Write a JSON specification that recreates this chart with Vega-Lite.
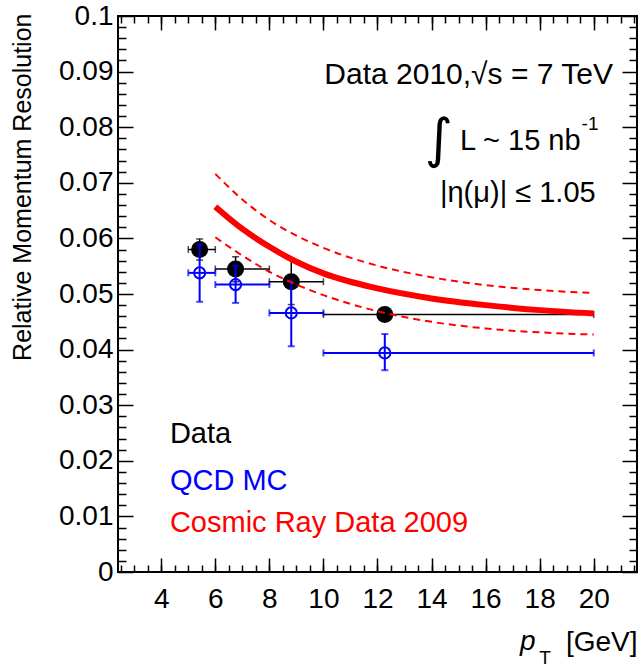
{
  "$schema": "https://vega.github.io/schema/vega-lite/v6.json",
  "width": 519,
  "height": 556,
  "autosize": {"type": "none"},
  "padding": {"left": 118, "top": 16, "right": 5, "bottom": 96},
  "background": "white",
  "config": {
    "view": {"stroke": "black", "strokeWidth": 2},
    "font": "Liberation Sans",
    "axis": {"grid": false, "domain": false, "tickColor": "black", "tickWidth": 1.5, "labelColor": "black", "titleColor": "black", "labelFont": "Liberation Sans", "titleFont": "Liberation Sans", "titleFontWeight": "normal"}
  },
  "datasets": {
    "pts": [
      {"series": "Data", "x": 5.42, "xlo": 5, "xhi": 6, "y": 0.058, "ylo": 0.0561, "yhi": 0.0599},
      {"series": "Data", "x": 6.75, "xlo": 6, "xhi": 8, "y": 0.0545, "ylo": 0.0522, "yhi": 0.0567},
      {"series": "Data", "x": 8.81, "xlo": 8, "xhi": 10, "y": 0.0522, "ylo": 0.0481, "yhi": 0.0564},
      {"series": "Data", "x": 12.27, "xlo": 10, "xhi": 20, "y": 0.0463, "ylo": 0.0456, "yhi": 0.047},
      {"series": "QCD MC", "x": 5.42, "xlo": 5, "xhi": 6, "y": 0.0538, "ylo": 0.0486, "yhi": 0.0589},
      {"series": "QCD MC", "x": 6.75, "xlo": 6, "xhi": 8, "y": 0.0517, "ylo": 0.0484, "yhi": 0.0551},
      {"series": "QCD MC", "x": 8.81, "xlo": 8, "xhi": 10, "y": 0.0466, "ylo": 0.0406, "yhi": 0.0524},
      {"series": "QCD MC", "x": 12.27, "xlo": 10, "xhi": 20, "y": 0.0394, "ylo": 0.0363, "yhi": 0.0428}
    ],
    "curves": [
      {"curve": "central", "x": 6, "y": 0.0657},
      {"curve": "central", "x": 7, "y": 0.0617},
      {"curve": "central", "x": 8, "y": 0.0585},
      {"curve": "central", "x": 9, "y": 0.0558},
      {"curve": "central", "x": 10, "y": 0.0537},
      {"curve": "central", "x": 12, "y": 0.051},
      {"curve": "central", "x": 14, "y": 0.0492},
      {"curve": "central", "x": 16, "y": 0.048},
      {"curve": "central", "x": 18, "y": 0.0471},
      {"curve": "central", "x": 20, "y": 0.0465},
      {"curve": "upper", "x": 6, "y": 0.0716},
      {"curve": "upper", "x": 7, "y": 0.067},
      {"curve": "upper", "x": 8, "y": 0.0633},
      {"curve": "upper", "x": 9, "y": 0.0605},
      {"curve": "upper", "x": 10, "y": 0.0583},
      {"curve": "upper", "x": 12, "y": 0.0551},
      {"curve": "upper", "x": 14, "y": 0.053},
      {"curve": "upper", "x": 16, "y": 0.0516},
      {"curve": "upper", "x": 18, "y": 0.0507},
      {"curve": "upper", "x": 20, "y": 0.0502},
      {"curve": "lower", "x": 6, "y": 0.0602},
      {"curve": "lower", "x": 7, "y": 0.0569},
      {"curve": "lower", "x": 8, "y": 0.054},
      {"curve": "lower", "x": 9, "y": 0.0517},
      {"curve": "lower", "x": 10, "y": 0.0498},
      {"curve": "lower", "x": 12, "y": 0.0469},
      {"curve": "lower", "x": 14, "y": 0.045},
      {"curve": "lower", "x": 16, "y": 0.0438},
      {"curve": "lower", "x": 18, "y": 0.0431},
      {"curve": "lower", "x": 20, "y": 0.0427}
    ],
    "legend": [
      {"label": "Data", "x": 4.32, "y": 0.0248},
      {"label": "QCD MC", "x": 4.32, "y": 0.0164},
      {"label": "Cosmic Ray Data 2009", "x": 4.32, "y": 0.0088}
    ]
  },
  "layer": [
    {
      "data": {"name": "pts"},
      "transform": [{"filter": "datum.series == 'Data'"}],
      "mark": {"type": "rule", "color": "black", "strokeWidth": 1.5},
      "encoding": {
        "x": {"field": "xlo", "type": "quantitative", "scale": {"domain": [2.4, 21.6], "nice": false, "zero": false},
          "axis": {"orient": "bottom", "values": [4, 6, 8, 10, 12, 14, 16, 18, 20], "tickSize": -14, "labelFontSize": 28, "labelPadding": 27, "labelFlush": false,
            "title": "[GeV]", "titleFontSize": 28, "titleAnchor": "end", "titleAlign": "right", "titleBaseline": "alphabetic", "titleX": 519, "titleY": 78}},
        "x2": {"field": "xhi"},
        "y": {"field": "y", "type": "quantitative", "scale": {"domain": [0, 0.1], "nice": false, "zero": false},
          "axis": {"orient": "left", "values": [0, 0.01, 0.02, 0.03, 0.04, 0.05, 0.06, 0.07, 0.08, 0.09, 0.1], "format": "~g", "tickSize": -15, "labelFontSize": 28, "labelPadding": 20,
            "title": "Relative Momentum Resolution", "titleFontSize": 25, "titleAngle": -90, "titleAlign": "right", "titleAnchor": "end", "titleBaseline": "middle", "titleX": -96, "titleY": -3}}
      }
    },
    {
      "data": {"name": "pts"},
      "transform": [{"filter": "datum.series == 'Data'"}],
      "mark": {"type": "rule", "color": "black", "strokeWidth": 1.5},
      "encoding": {
        "x": {"field": "x", "type": "quantitative",
          "axis": {"orient": "bottom", "values": [2.5, 3, 3.5, 4, 4.5, 5, 5.5, 6, 6.5, 7, 7.5, 8, 8.5, 9, 9.5, 10, 10.5, 11, 11.5, 12, 12.5, 13, 13.5, 14, 14.5, 15, 15.5, 16, 16.5, 17, 17.5, 18, 18.5, 19, 19.5, 20, 20.5, 21, 21.5], "tickSize": -7, "labels": false, "title": null}},
        "y": {"field": "ylo", "type": "quantitative",
          "axis": {"orient": "left", "values": [0.002, 0.004, 0.006, 0.008, 0.012, 0.014, 0.016, 0.018, 0.022, 0.024, 0.026, 0.028, 0.032, 0.034, 0.036, 0.038, 0.042, 0.044, 0.046, 0.048, 0.052, 0.054, 0.056, 0.058, 0.062, 0.064, 0.066, 0.068, 0.072, 0.074, 0.076, 0.078, 0.082, 0.084, 0.086, 0.088, 0.092, 0.094, 0.096, 0.098], "tickSize": -8, "labels": false, "title": null}},
        "y2": {"field": "yhi"}
      }
    },
    {
      "data": {"name": "pts"},
      "transform": [{"filter": "datum.series == 'Data'"}, {"fold": ["xlo", "xhi"], "as": ["end", "xe"]}],
      "mark": {"type": "tick", "orient": "vertical", "color": "black", "size": 7, "thickness": 1.5},
      "encoding": {
        "x": {"field": "xe", "type": "quantitative", "axis": null},
        "y": {"field": "y", "type": "quantitative", "axis": null}
      }
    },
    {
      "data": {"name": "pts"},
      "transform": [{"filter": "datum.series == 'Data'"}, {"fold": ["ylo", "yhi"], "as": ["end", "ye"]}],
      "mark": {"type": "tick", "orient": "horizontal", "color": "black", "size": 7, "thickness": 1.5},
      "encoding": {
        "x": {"field": "x", "type": "quantitative", "axis": null},
        "y": {"field": "ye", "type": "quantitative", "axis": null}
      }
    },
    {
      "data": {"name": "pts"},
      "transform": [{"filter": "datum.series == 'Data'"}],
      "mark": {"type": "point", "shape": "circle", "filled": true, "color": "black", "size": 290, "opacity": 1},
      "encoding": {
        "x": {"field": "x", "type": "quantitative",
          "axis": {"orient": "top", "values": [4, 6, 8, 10, 12, 14, 16, 18, 20], "tickSize": -14, "labels": false, "title": null}},
        "y": {"field": "y", "type": "quantitative",
          "axis": {"orient": "right", "values": [0, 0.01, 0.02, 0.03, 0.04, 0.05, 0.06, 0.07, 0.08, 0.09, 0.1], "tickSize": -15, "labels": false, "title": null}}
      }
    },
    {
      "data": {"name": "pts"},
      "transform": [{"filter": "datum.series == 'QCD MC'"}],
      "mark": {"type": "rule", "color": "#0000ff", "strokeWidth": 2},
      "encoding": {
        "x": {"field": "xlo", "type": "quantitative",
          "axis": {"orient": "top", "values": [2.5, 3, 3.5, 4, 4.5, 5, 5.5, 6, 6.5, 7, 7.5, 8, 8.5, 9, 9.5, 10, 10.5, 11, 11.5, 12, 12.5, 13, 13.5, 14, 14.5, 15, 15.5, 16, 16.5, 17, 17.5, 18, 18.5, 19, 19.5, 20, 20.5, 21, 21.5], "tickSize": -7, "labels": false, "title": null}},
        "x2": {"field": "xhi"},
        "y": {"field": "y", "type": "quantitative",
          "axis": {"orient": "right", "values": [0.002, 0.004, 0.006, 0.008, 0.012, 0.014, 0.016, 0.018, 0.022, 0.024, 0.026, 0.028, 0.032, 0.034, 0.036, 0.038, 0.042, 0.044, 0.046, 0.048, 0.052, 0.054, 0.056, 0.058, 0.062, 0.064, 0.066, 0.068, 0.072, 0.074, 0.076, 0.078, 0.082, 0.084, 0.086, 0.088, 0.092, 0.094, 0.096, 0.098], "tickSize": -8, "labels": false, "title": null}}
      }
    },
    {
      "data": {"name": "pts"},
      "transform": [{"filter": "datum.series == 'QCD MC'"}],
      "mark": {"type": "rule", "color": "#0000ff", "strokeWidth": 2},
      "encoding": {
        "x": {"field": "x", "type": "quantitative", "axis": null},
        "y": {"field": "ylo", "type": "quantitative", "axis": null},
        "y2": {"field": "yhi"}
      }
    },
    {
      "data": {"name": "pts"},
      "transform": [{"filter": "datum.series == 'QCD MC'"}, {"fold": ["xlo", "xhi"], "as": ["end", "xe"]}],
      "mark": {"type": "tick", "orient": "vertical", "color": "#0000ff", "size": 7, "thickness": 2},
      "encoding": {
        "x": {"field": "xe", "type": "quantitative", "axis": null},
        "y": {"field": "y", "type": "quantitative", "axis": null}
      }
    },
    {
      "data": {"name": "pts"},
      "transform": [{"filter": "datum.series == 'QCD MC'"}, {"fold": ["ylo", "yhi"], "as": ["end", "ye"]}],
      "mark": {"type": "tick", "orient": "horizontal", "color": "#0000ff", "size": 7, "thickness": 2},
      "encoding": {
        "x": {"field": "x", "type": "quantitative", "axis": null},
        "y": {"field": "ye", "type": "quantitative", "axis": null}
      }
    },
    {
      "data": {"name": "pts"},
      "transform": [{"filter": "datum.series == 'QCD MC'"}],
      "mark": {"type": "point", "shape": "circle", "filled": false, "color": "#0000ff", "strokeWidth": 2, "size": 125, "opacity": 1},
      "encoding": {
        "x": {"field": "x", "type": "quantitative", "axis": null},
        "y": {"field": "y", "type": "quantitative", "axis": null}
      }
    },
    {
      "data": {"name": "curves"},
      "transform": [{"filter": "datum.curve != 'central'"}],
      "mark": {"type": "line", "color": "#ff0000", "strokeWidth": 2, "strokeDash": [7, 5], "interpolate": "monotone"},
      "encoding": {
        "x": {"field": "x", "type": "quantitative", "axis": null},
        "y": {"field": "y", "type": "quantitative", "axis": null},
        "detail": {"field": "curve"}
      }
    },
    {
      "data": {"name": "curves"},
      "transform": [{"filter": "datum.curve == 'central'"}],
      "mark": {"type": "line", "color": "#ff0000", "strokeWidth": 6, "interpolate": "monotone"},
      "encoding": {
        "x": {"field": "x", "type": "quantitative", "axis": null},
        "y": {"field": "y", "type": "quantitative", "axis": null}
      }
    },
    {
      "data": {"name": "legend"},
      "mark": {"type": "text", "align": "left", "baseline": "middle", "fontSize": 29, "font": "Liberation Sans"},
      "encoding": {
        "x": {"field": "x", "type": "quantitative", "axis": null},
        "y": {"field": "y", "type": "quantitative", "axis": null},
        "text": {"field": "label"},
        "color": {"field": "label", "type": "nominal", "scale": {"domain": ["Data", "QCD MC", "Cosmic Ray Data 2009"], "range": ["#000000", "#0000ff", "#ff0000"]}, "legend": null}
      }
    },
    {
      "data": {"values": [{"x": 20.71, "y": 0.0894, "label": "Data 2010,√s = 7 TeV"}]},
      "mark": {"type": "text", "align": "right", "baseline": "middle", "fontSize": 30, "color": "black"},
      "encoding": {
        "x": {"field": "x", "type": "quantitative", "axis": null},
        "y": {"field": "y", "type": "quantitative", "axis": null},
        "text": {"field": "label"}
      }
    },
    {
      "data": {"values": [{"x": 15.05, "y": 0.0775, "label": "L ~ 15 nb"}, {"x": 14.31, "y": 0.0682, "label": "|η(μ)| ≤ 1.05"}]},
      "mark": {"type": "text", "align": "left", "baseline": "middle", "fontSize": 29, "color": "black"},
      "encoding": {
        "x": {"field": "x", "type": "quantitative", "axis": null},
        "y": {"field": "y", "type": "quantitative", "axis": null},
        "text": {"field": "label"}
      }
    },
    {
      "data": {"values": [{"x": 19.55, "y": 0.0805, "label": "-1"}]},
      "mark": {"type": "text", "align": "left", "baseline": "middle", "fontSize": 19, "color": "black"},
      "encoding": {
        "x": {"field": "x", "type": "quantitative", "axis": null},
        "y": {"field": "y", "type": "quantitative", "axis": null},
        "text": {"field": "label"}
      }
    },
    {
      "data": {"values": [{"x": 14.27, "y": 0.0775, "label": "∫"}]},
      "mark": {"type": "text", "align": "center", "baseline": "middle", "fontSize": 54, "color": "black", "font": "DejaVu Sans"},
      "encoding": {
        "x": {"field": "x", "type": "quantitative", "axis": null},
        "y": {"field": "y", "type": "quantitative", "axis": null},
        "text": {"field": "label"}
      }
    },
    {
      "data": {"values": [{"x": 17.27, "y": -0.01403, "label": "p"}]},
      "mark": {"type": "text", "align": "left", "baseline": "alphabetic", "fontSize": 28, "fontStyle": "italic", "color": "black"},
      "encoding": {
        "x": {"field": "x", "type": "quantitative", "axis": null},
        "y": {"field": "y", "type": "quantitative", "axis": null},
        "text": {"field": "label"}
      }
    },
    {
      "data": {"values": [{"x": 17.98, "y": -0.01655, "label": "T"}]},
      "mark": {"type": "text", "align": "left", "baseline": "alphabetic", "fontSize": 19, "color": "black"},
      "encoding": {
        "x": {"field": "x", "type": "quantitative", "axis": null},
        "y": {"field": "y", "type": "quantitative", "axis": null},
        "text": {"field": "label"}
      }
    }
  ],
  "resolve": {"axis": {"x": "independent", "y": "independent"}}
}
